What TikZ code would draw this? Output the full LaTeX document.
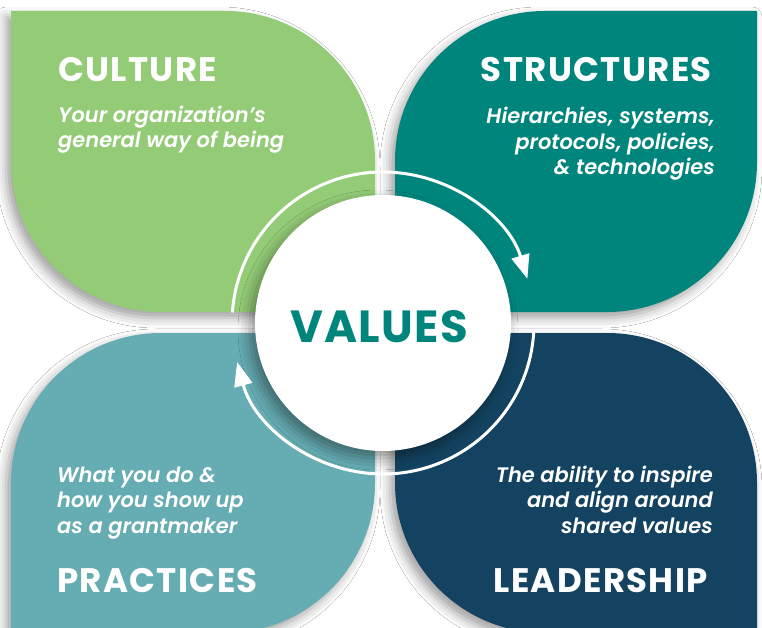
\documentclass[tikz,border=0pt]{standalone}
\usepackage{fontspec}
\setmainfont{Poppins}
\newfontfamily\headfont{Poppins}[LetterSpace=4]
\newfontfamily\hubfont{Poppins}[LetterSpace=3]
\newfontfamily\blurbfont{Poppins SemiBold Italic}
\usetikzlibrary{arrows.meta,shadows.blur}
\definecolor{culture}{HTML}{93CB76}
\definecolor{structures}{HTML}{00857D}
\definecolor{practices}{HTML}{66ACB3}
\definecolor{leadership}{HTML}{134360}
\begin{document}
\begin{tikzpicture}[x=1pt,y=-1pt,
  petal/.style={blur shadow={shadow xshift=-5pt,shadow yshift=-6pt,shadow blur radius=10pt,shadow opacity=38}},
  hub/.style={circle,fill=white,minimum size=256pt,inner sep=0pt,
    blur shadow={shadow xshift=-5pt,shadow yshift=-7pt,shadow blur radius=12pt,shadow opacity=40}},
  title/.style={text=white,font=\headfont\bfseries\fontsize{34}{38}\selectfont,inner sep=0pt},
  blurb/.style={text=white,font=\blurbfont\fontsize{21}{25.5}\selectfont,inner sep=0pt},
  ringarrow/.style={white,line width=3pt,-{Triangle[length=24pt,width=18pt]}}]

\useasboundingbox (0,0) rectangle (762,628);
\clip (0,0) rectangle (762,628);
\fill[white] (0,0) rectangle (762,628);

% four petals
\fill[culture,petal] (11,11) -- (225,11) arc[start angle=-90,end angle=0,radius=150]
  -- (375,312) -- (161,312) arc[start angle=90,end angle=180,radius=150] -- cycle;
\fill[structures,petal] (395,161) arc[start angle=180,end angle=270,radius=150]
  -- (757,11) -- (757,162) arc[start angle=0,end angle=90,radius=150] -- (395,312) -- cycle;
\fill[practices,petal] (11,483) arc[start angle=180,end angle=270,radius=150]
  -- (375,333) -- (375,483) arc[start angle=0,end angle=90,radius=150] -- (11,633) -- cycle;
\fill[leadership,petal] (395,333) -- (607,333) arc[start angle=-90,end angle=0,radius=150]
  -- (757,633) -- (545,633) arc[start angle=90,end angle=180,radius=150] -- cycle;

% central hub
\node[hub] (values) at (383,323) {};
\node[text=structures,font=\hubfont\bfseries\fontsize{45}{50}\selectfont,inner sep=0pt,anchor=base]
  (valuest) at (379,342) {VALUES};

% cycle arrows around the hub
\draw[ringarrow] ([shift={(184:151)}]values.center) arc[start angle=184,end angle=343,radius=151];
\draw[ringarrow] ([shift={(3.5:151)}]values.center) arc[start angle=3.5,end angle=165,radius=151];

% labels (multi-line blurbs are anchored on their last baseline)
\node[title,anchor=base west] (culturet) at (58,82) {CULTURE};
\node[blurb,anchor=base west,align=left] (cultured) at (58,148) {Your organization’s\\general way of being};
\node[title,anchor=base east] (structt) at (712,82) {STRUCTURES};
\node[blurb,anchor=base east,align=right] (structd) at (715,175) {Hierarchies, systems,\\protocols, policies,\\\& technologies};
\node[blurb,anchor=base west,align=left] (practd) at (57,533) {What you do \&\\how you show up\\as a grantmaker};
\node[title,anchor=base west] (practt) at (57,592) {PRACTICES};
\node[blurb,anchor=base east,align=right] (leadd) at (713,533) {The ability to inspire\\and align around\\shared values};
\node[title,anchor=base east] (leadt) at (708,592) {LEADERSHIP};
\end{tikzpicture}
\end{document}
